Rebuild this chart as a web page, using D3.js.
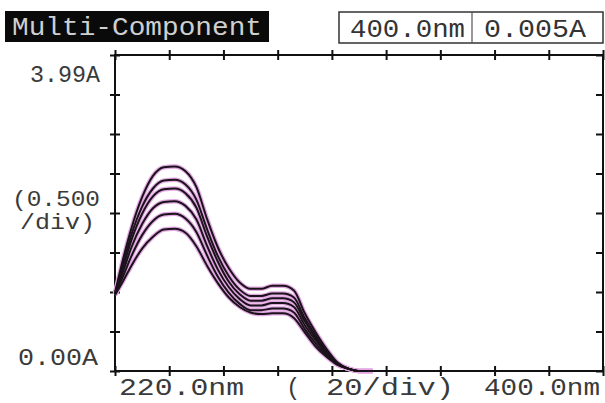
<!DOCTYPE html>
<html>
<head>
<meta charset="utf-8">
<script src="https://cdn.jsdelivr.net/npm/d3@7"></script>
<style>
  body { margin: 0; background: #fff; }
  text { font-family: "Liberation Mono", "DejaVu Sans Mono", monospace; }
</style>
</head>
<body>
<div id="chart"></div>
<script>
// wavelengths (nm) and the six absorbance traces, top to bottom
var wavelengths = [220,223,226,230,234,238,242,246,250,254,258,262,266,270,274,278,282,286,290,294,298,302,306,310,315];
var trace1 = [0.99,1.42,1.80,2.20,2.47,2.58,2.59,2.53,2.33,1.92,1.56,1.30,1.12,1.04,1.04,1.08,1.08,1.02,0.73,0.49,0.28,0.11,0.03,0.00,0.00];
var trace2 = [0.98,1.36,1.72,2.08,2.31,2.41,2.42,2.36,2.17,1.79,1.45,1.20,1.03,0.95,0.95,0.98,0.98,0.93,0.67,0.45,0.25,0.10,0.03,0.00,0.00];
var trace3 = [0.98,1.31,1.65,1.99,2.21,2.30,2.31,2.25,2.07,1.70,1.38,1.13,0.97,0.89,0.89,0.92,0.92,0.87,0.63,0.42,0.24,0.09,0.03,0.00,0.00];
var trace4 = [0.97,1.26,1.56,1.86,2.06,2.14,2.15,2.09,1.92,1.58,1.28,1.06,0.91,0.83,0.83,0.86,0.86,0.81,0.58,0.39,0.22,0.09,0.03,0.00,0.00];
var trace5 = [0.97,1.20,1.45,1.72,1.90,1.98,1.99,1.93,1.76,1.46,1.19,0.99,0.85,0.77,0.77,0.79,0.79,0.74,0.53,0.35,0.20,0.08,0.03,0.00,0.00];
var trace6 = [0.96,1.14,1.33,1.55,1.70,1.79,1.80,1.75,1.58,1.33,1.11,0.93,0.81,0.74,0.72,0.73,0.73,0.67,0.49,0.31,0.18,0.08,0.03,0.00,0.00];
var traces = [trace1, trace2, trace3, trace4, trace5, trace6];

var xTicks = [220,240,260,280,300,320,340,360,380,400];
var yTicks = [0,0.5,1,1.5,2,2.5,3,3.5,4];

var W = 605, H = 403;
var pLeft = 115, pRight = 603, pTop = 55, pBottom = 371;

var x = d3.scaleLinear().domain([220, 400]).range([pLeft, pRight]);
var y = d3.scaleLinear().domain([0, 4]).range([pBottom, pTop]);

var svg = d3.select("#chart").append("svg")
  .attr("width", W)
  .attr("height", H);

// header
svg.append("rect").attr("x", 5).attr("y", 11).attr("width", 264).attr("height", 31).attr("fill", "#0a0a0a");
svg.append("text").attr("x", 12).attr("y", 35).attr("font-size", 25).attr("fill", "#cfcfcf")
  .attr("textLength", 250).attr("lengthAdjust", "spacingAndGlyphs").text("Multi-Component");
svg.append("rect").attr("x", 339).attr("y", 12).attr("width", 264).attr("height", 31)
  .attr("fill", "none").attr("stroke", "#333").attr("stroke-width", 1.5);
svg.append("line").attr("x1", 472).attr("x2", 472).attr("y1", 12).attr("y2", 43).attr("stroke", "#555").attr("stroke-width", 1.2);
svg.append("text").attr("x", 350).attr("y", 37).attr("font-size", 25).attr("fill", "#333")
  .attr("textLength", 115).attr("lengthAdjust", "spacingAndGlyphs").text("400.0nm");
svg.append("text").attr("x", 484).attr("y", 37).attr("font-size", 25).attr("fill", "#333")
  .attr("textLength", 102).attr("lengthAdjust", "spacingAndGlyphs").text("0.005A");

// frame
svg.append("rect").attr("x", pLeft).attr("y", pTop).attr("width", pRight - pLeft).attr("height", pBottom - pTop)
  .attr("fill", "none").attr("stroke", "#111").attr("stroke-width", 2);

// crossing ticks via axes
function tickAxis(axis, tx, ty) {
  var g = svg.append("g").attr("transform", "translate(" + tx + "," + ty + ")").call(axis);
  g.select(".domain").remove();
  g.selectAll(".tick line").attr("stroke", "#111").attr("stroke-width", 2);
}
tickAxis(d3.axisBottom(x).tickValues(xTicks).tickSize(10).tickFormat(""), 0, pBottom - 5);
tickAxis(d3.axisBottom(x).tickValues(xTicks).tickSize(10).tickFormat(""), 0, pTop - 5);
tickAxis(d3.axisRight(y).tickValues(yTicks).tickSize(10).tickFormat(""), pLeft - 5, 0);
tickAxis(d3.axisLeft(y).tickValues(yTicks).tickSize(7).tickFormat(""), pRight, 0);

// traces
var line = d3.line()
  .x(function(d, i) { return x(wavelengths[i]); })
  .y(function(d) { return y(d); })
  .curve(d3.curveMonotoneX);

svg.selectAll(".halo").data(traces).enter().append("path")
  .attr("class", "halo").attr("d", line)
  .attr("fill", "none").attr("stroke", "#e2a8e2").attr("stroke-width", 4.5);
svg.selectAll(".trace").data(traces).enter().append("path")
  .attr("class", "trace").attr("d", line)
  .attr("fill", "none").attr("stroke", "#1c121c").attr("stroke-width", 2);

// labels
var lab = "#3a3a3a";
svg.append("text").attr("x", 30).attr("y", 82).attr("font-size", 24).attr("fill", lab)
  .attr("textLength", 70).attr("lengthAdjust", "spacingAndGlyphs").text("3.99A");
svg.append("text").attr("x", 12).attr("y", 206).attr("font-size", 22).attr("fill", lab)
  .attr("textLength", 88).attr("lengthAdjust", "spacingAndGlyphs").text("(0.500");
svg.append("text").attr("x", 20).attr("y", 229).attr("font-size", 22).attr("fill", lab)
  .attr("textLength", 75).attr("lengthAdjust", "spacingAndGlyphs").text("/div)");
svg.append("text").attr("x", 18).attr("y", 365).attr("font-size", 24).attr("fill", lab)
  .attr("textLength", 80).attr("lengthAdjust", "spacingAndGlyphs").text("0.00A");
svg.append("text").attr("x", 119).attr("y", 395).attr("font-size", 24).attr("fill", lab)
  .attr("textLength", 125).attr("lengthAdjust", "spacingAndGlyphs").text("220.0nm");
svg.append("text").attr("x", 286).attr("y", 395).attr("font-size", 24).attr("fill", lab).text("(");
svg.append("text").attr("x", 326).attr("y", 395).attr("font-size", 24).attr("fill", lab)
  .attr("textLength", 128).attr("lengthAdjust", "spacingAndGlyphs").text("20/div)");
svg.append("text").attr("x", 484).attr("y", 395).attr("font-size", 24).attr("fill", lab)
  .attr("textLength", 116).attr("lengthAdjust", "spacingAndGlyphs").text("400.0nm");
</script>
</body>
</html>
